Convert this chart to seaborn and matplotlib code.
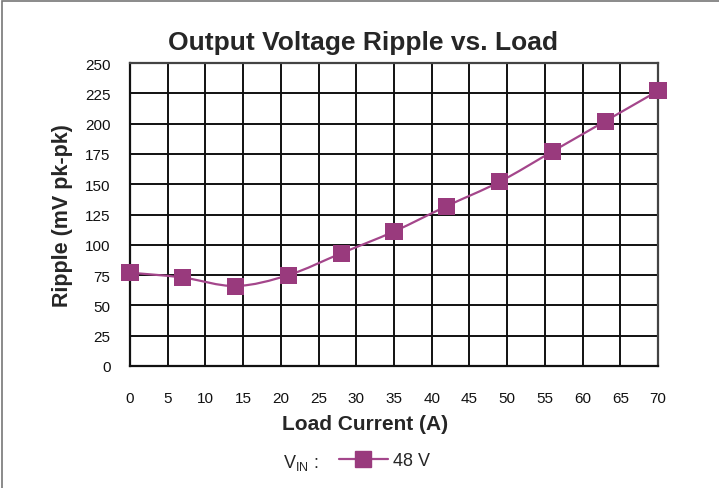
import numpy as np
import pandas as pd
import matplotlib
matplotlib.use("Agg")
import matplotlib.pyplot as plt
from matplotlib.path import Path
from matplotlib.patches import PathPatch, Rectangle
from matplotlib.lines import Line2D
import seaborn as sns

# Measured ripple at VIN = 48 V
load_current = [0, 7, 14, 21, 28, 35, 42, 49, 56, 63, 70]
ripple_mv = [77, 73, 66, 75, 93, 111, 132, 152, 177, 202, 227]
x_ticks = list(range(0, 75, 5))
y_ticks = list(range(0, 275, 25))
series_label = "48 V"

line_color = "#A4468B"
marker_color = "#993A7D"

sns.set_theme(style="white")
plt.rcParams["font.family"] = ["Liberation Sans", "DejaVu Sans"]

df = pd.DataFrame({"load": load_current, "ripple": ripple_mv})

fig = plt.figure(figsize=(7.19, 4.89), dpi=100)
ax = fig.add_axes([130 / 719, 1 - 367 / 489, 528 / 719, 303 / 489])

# Smoothed connecting curve (cubic Bezier segments through each point)
pts = np.column_stack([df["load"].to_numpy(float), df["ripple"].to_numpy(float)])
verts = [tuple(pts[0])]
codes = [Path.MOVETO]
n = len(pts)
for i in range(n - 1):
    p0 = pts[i - 1] if i > 0 else pts[i]
    p1 = pts[i]
    p2 = pts[i + 1]
    p3 = pts[i + 2] if i + 2 < n else pts[i + 1]
    c1 = p1 + (p2 - p0) / 6.0
    c2 = p2 - (p3 - p1) / 6.0
    verts += [tuple(c1), tuple(c2), tuple(p2)]
    codes += [Path.CURVE4] * 3
ax.add_patch(PathPatch(Path(verts, codes), facecolor="none",
                       edgecolor=line_color, lw=1.6, zorder=3, clip_on=False))

sns.scatterplot(data=df, x="load", y="ripple", marker="s", s=150,
                color=marker_color, edgecolor="none", ax=ax, zorder=4,
                clip_on=False, legend=False)

ax.set_xlim(0, 70)
ax.set_ylim(0, 250)
ax.set_xticks(x_ticks)
ax.set_yticks(y_ticks)
ax.set_xticklabels([str(v) for v in x_ticks], fontsize=11)
ax.set_yticklabels([str(v) for v in y_ticks], fontsize=11)
ax.tick_params(axis="both", length=0, colors="#111111")
ax.tick_params(axis="x", pad=18)
ax.tick_params(axis="y", pad=14)
ax.grid(True, color="#111111", lw=1.4)
ax.set_axisbelow(True)
for side, sp in ax.spines.items():
    sp.set_visible(True)
    sp.set_color("#444444" if side in ("top", "right") else "#111111")
    sp.set_linewidth(1.6)

ax.set_xlabel("Load Current (A)", fontsize=15, fontweight="bold")
ax.xaxis.set_label_coords((365 - 130) / 528, -(425 - 367) / 303)
ax.xaxis.label.set_va("center")
ax.set_ylabel("Ripple (mV pk-pk)", fontsize=15.5, fontweight="bold")
ax.yaxis.set_label_coords(-(130 - 63) / 528, 0.5)
ax.yaxis.label.set_va("center")
fig.text(363 / 719, 1 - 43 / 489, "Output Voltage Ripple vs. Load",
         fontsize=19, fontweight="bold", ha="center", va="center")

# Legend row
fig.text(283 / 719, 1 - 463 / 489, r"V$_{\mathregular{IN}}$ :", fontsize=13,
         ha="left", va="center")
handle = Line2D([], [], color=line_color, lw=1.6, marker="s", markersize=11,
                markerfacecolor=marker_color, markeredgecolor=marker_color)
fig.legend([handle], [series_label], loc="center left",
           bbox_to_anchor=(339 / 719, 1 - 462 / 489), frameon=False,
           fontsize=13, handlelength=2.7, handletextpad=0.28, borderpad=0,
           borderaxespad=0)

# Outer frame
fig.patches.append(Rectangle((2 / 719, -0.1), 1.2, 1.1 - 2 / 489,
                             transform=fig.transFigure, fill=False,
                             edgecolor="#777777", lw=1.2))

fig.savefig("out.png", dpi=100)
